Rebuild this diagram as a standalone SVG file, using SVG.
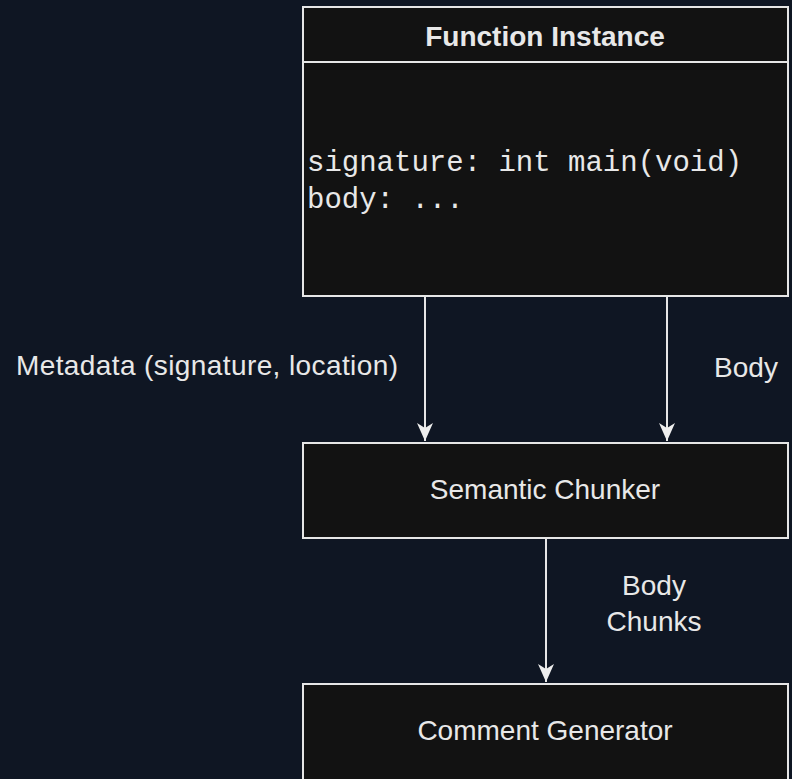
<svg xmlns="http://www.w3.org/2000/svg" width="792" height="779" viewBox="0 0 792 779">
<style>
.box{fill:#121212;stroke:#e6e6e6;stroke-width:2}
.t{font-family:"Liberation Sans",Arial,sans-serif;font-size:28px;fill:#e8e8e8}
.b{font-weight:bold}
.m{font-family:"Liberation Mono","Courier New",monospace;font-size:29px;fill:#e8e8e8}
.edge{stroke:#e6e6e6;stroke-width:2;fill:none}
</style>
<defs>
<marker id="arr" markerUnits="userSpaceOnUse" markerWidth="20" markerHeight="20" viewBox="-19 -10 20 20" refX="0" refY="0" orient="auto">
<path d="M0,0 L-18,-8 L-13,0 L-18,8 Z" fill="#eeeeee"/>
</marker>
</defs>
<rect width="792" height="779" fill="#0f1623"/>
<g id="function-instance">
<rect class="box" x="303" y="7" width="485" height="289"/>
<line x1="303" y1="62" x2="788" y2="62" stroke="#e6e6e6" stroke-width="2"/>
<text class="t b" x="545" y="46" text-anchor="middle">Function Instance</text>
<text class="m" x="307" y="171">signature: int main(void)</text>
<text class="m" x="307" y="208">body: ...</text>
</g>
<g id="semantic-chunker">
<rect class="box" x="303" y="443" width="485" height="95"/>
<text class="t" x="545" y="499" text-anchor="middle">Semantic Chunker</text>
</g>
<g id="comment-generator">
<rect class="box" x="303" y="684" width="485" height="120"/>
<text class="t" x="545" y="740" text-anchor="middle">Comment Generator</text>
</g>
<g id="connectors">
<line class="edge" x1="425" y1="296" x2="425" y2="441" marker-end="url(#arr)"/>
<line class="edge" x1="667" y1="296" x2="667" y2="441" marker-end="url(#arr)"/>
<line class="edge" x1="546" y1="538" x2="546" y2="682" marker-end="url(#arr)"/>
<text class="t" x="207" y="375" text-anchor="middle" textLength="382">Metadata (signature, location)</text>
<text class="t" x="746" y="377" text-anchor="middle">Body</text>
<text class="t" x="654" y="595" text-anchor="middle">Body</text>
<text class="t" x="654" y="631" text-anchor="middle">Chunks</text>
</g>
</svg>
